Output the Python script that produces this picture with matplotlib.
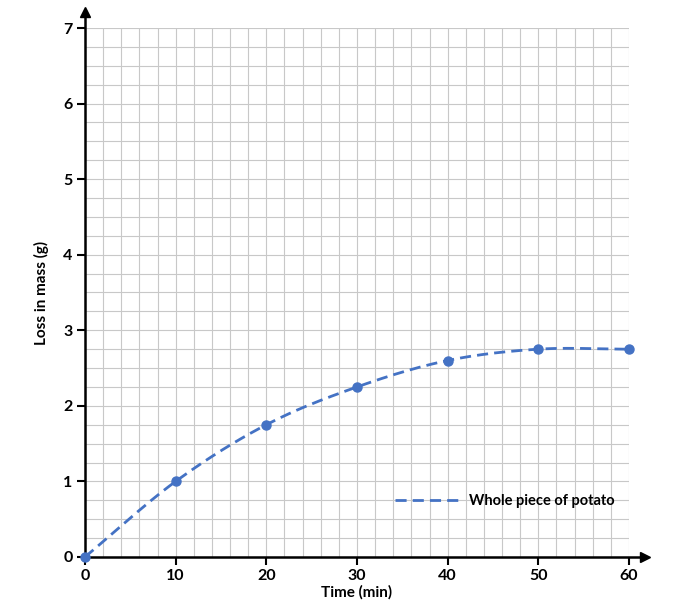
import numpy as np
import matplotlib
matplotlib.use("Agg")
import matplotlib.pyplot as plt

plt.rcParams['font.family'] = ['Lato', 'DejaVu Sans']

time_min = [0, 10, 20, 30, 40, 50, 60]
loss_g = [0.0, 1.0, 1.75, 2.25, 2.6, 2.75, 2.75]
series_label = "Whole piece of potato"
x_ticks = [0, 10, 20, 30, 40, 50, 60]
y_ticks = [0, 1, 2, 3, 4, 5, 6, 7]

color = "#4472C4"


def catmull_rom(x, y, n=30):
    x = np.asarray(x, float)
    y = np.asarray(y, float)
    px = np.concatenate([[2 * x[0] - x[1]], x, [2 * x[-1] - x[-2]]])
    py = np.concatenate([[2 * y[0] - y[1]], y, [2 * y[-1] - y[-2]]])
    xs, ys = [], []
    t = np.linspace(0, 1, n)
    for i in range(1, len(px) - 2):
        p0, p1, p2, p3 = (np.array([px[j], py[j]]) for j in range(i - 1, i + 3))
        m1 = (p2 - p0) / 2
        m2 = (p3 - p1) / 2
        h00 = 2 * t**3 - 3 * t**2 + 1
        h10 = t**3 - 2 * t**2 + t
        h01 = -2 * t**3 + 3 * t**2
        h11 = t**3 - t**2
        pts = (np.outer(h00, p1) + np.outer(h10, m1) + np.outer(h01, p2) + np.outer(h11, m2))
        xs.append(pts[:, 0])
        ys.append(pts[:, 1])
    return np.concatenate(xs), np.concatenate(ys)


fig = plt.figure(figsize=(6.82, 6.13), dpi=100)
ax = fig.add_axes([0.1246, 0.0914, 0.7977, 0.8629])

ax.set_xlim(0, 60)
ax.set_ylim(0, 7)
ax.set_xticks(np.arange(0, 60.1, 2), minor=True)
ax.set_yticks(np.arange(0, 7.01, 0.25), minor=True)
ax.grid(which='minor', color='#c8c8c8', linewidth=0.8)
ax.grid(which='major', color='#c8c8c8', linewidth=0.8)
ax.set_axisbelow(True)
ax.tick_params(which='minor', length=0)

for s in ax.spines.values():
    s.set_visible(False)

# axes with arrows
ax.plot([0, 1.03], [0, 0], color='black', lw=1.8, transform=ax.transAxes, clip_on=False, zorder=4)
ax.plot([0, 0], [0, 1.03], color='black', lw=1.8, transform=ax.transAxes, clip_on=False, zorder=4)
ax.plot([1.03], [0], marker='>', color='black', markersize=7, transform=ax.transAxes, clip_on=False, zorder=4)
ax.plot([0], [1.03], marker='^', color='black', markersize=7, transform=ax.transAxes, clip_on=False, zorder=4)

ax.set_xticks(x_ticks)
ax.set_yticks(y_ticks)
ax.set_xticklabels([str(v) for v in x_ticks], fontweight='bold', fontsize=11.5)
ax.set_yticklabels([str(v) for v in y_ticks], fontweight='bold', fontsize=11.5)
ax.tick_params(which='major', length=6, width=1.5, color='black', direction='out', pad=3)

sx, sy = catmull_rom(time_min, loss_g)
ax.plot(sx, sy, color=color, lw=2.0, linestyle=(0, (4, 2.2)), label=series_label, zorder=5, clip_on=False)
ax.plot(time_min, loss_g, 'o', color=color, markersize=6.5, zorder=6, clip_on=False)

ax.set_xlabel("Time (min)", fontweight='bold', fontsize=11, labelpad=1)
ax.set_ylabel("Loss in mass (g)", fontweight='bold', fontsize=11, labelpad=10)

leg = ax.legend(loc='center left', bbox_to_anchor=(0.545, 0.105), frameon=False,
                prop={'weight': 'bold', 'size': 10.5}, handlelength=4.6, handletextpad=0.5)

fig.savefig("out.png", dpi=100)
